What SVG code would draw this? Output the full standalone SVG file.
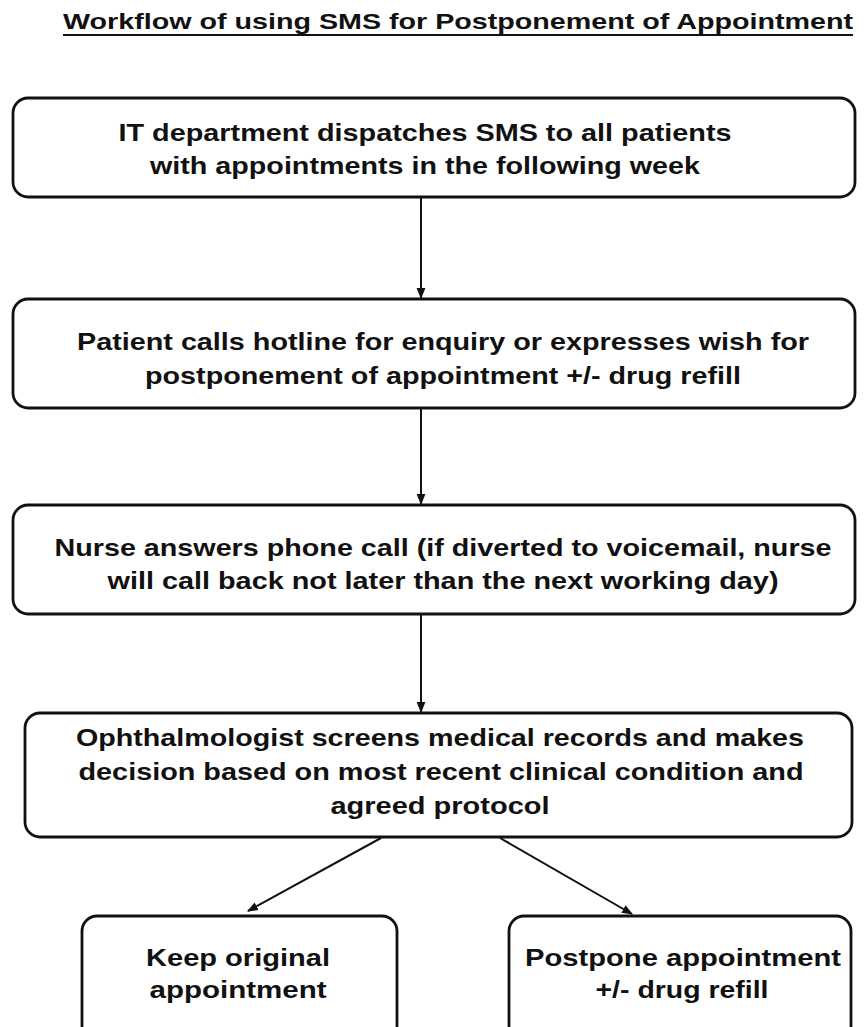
<svg xmlns="http://www.w3.org/2000/svg" width="865" height="1027" viewBox="0 0 865 1027">
<style>
.box{fill:#fff;stroke:#111;stroke-width:2.8}
.t{font-family:"Liberation Sans",Arial,sans-serif;font-weight:bold;font-size:24px;fill:#111;text-anchor:middle}
.title{font-family:"Liberation Sans",Arial,sans-serif;font-weight:bold;font-size:22px;fill:#111}
.c{stroke:#111;stroke-width:2;fill:none;marker-end:url(#ah)}
</style>
<defs>
<marker id="ah" viewBox="0 0 10 10" refX="9" refY="5" markerWidth="11" markerHeight="11" markerUnits="userSpaceOnUse" orient="auto">
<path d="M0,1 L10,5 L0,9 z" fill="#111"/>
</marker>
</defs>
<rect width="865" height="1027" fill="#fff"/>
<g id="title">
<text class="title" x="63" y="29" textLength="790" lengthAdjust="spacingAndGlyphs">Workflow of using SMS for Postponement of Appointment</text>
<line x1="63" y1="35" x2="853" y2="35" stroke="#111" stroke-width="2"/>
</g>
<g id="connectors">
<line class="c" x1="421" y1="197" x2="421" y2="298"/>
<line class="c" x1="421" y1="408" x2="421" y2="504"/>
<line class="c" x1="421" y1="614" x2="421" y2="712"/>
<line class="c" x1="381" y1="838" x2="248" y2="911"/>
<line class="c" x1="500" y1="838" x2="632" y2="914"/>
</g>
<g id="n1">
<rect class="box" x="13" y="98" width="842" height="99" rx="15"/>
<text class="t" x="425" y="141" textLength="613" lengthAdjust="spacingAndGlyphs">IT department dispatches SMS to all patients</text>
<text class="t" x="425" y="174" textLength="550" lengthAdjust="spacingAndGlyphs">with appointments in the following week</text>
</g>
<g id="n2">
<rect class="box" x="13" y="299" width="842" height="109" rx="15"/>
<text class="t" x="443" y="350" textLength="732" lengthAdjust="spacingAndGlyphs">Patient calls hotline for enquiry or expresses wish for</text>
<text class="t" x="443" y="384" textLength="596" lengthAdjust="spacingAndGlyphs">postponement of appointment +/- drug refill</text>
</g>
<g id="n3">
<rect class="box" x="13" y="505" width="842" height="109" rx="15"/>
<text class="t" x="443" y="556" textLength="777" lengthAdjust="spacingAndGlyphs">Nurse answers phone call (if diverted to voicemail, nurse</text>
<text class="t" x="443" y="589" textLength="671" lengthAdjust="spacingAndGlyphs">will call back not later than the next working day)</text>
</g>
<g id="n4">
<rect class="box" x="25" y="713" width="827" height="124" rx="15"/>
<text class="t" x="440" y="746" textLength="728" lengthAdjust="spacingAndGlyphs">Ophthalmologist screens medical records and makes</text>
<text class="t" x="441" y="780" textLength="725" lengthAdjust="spacingAndGlyphs">decision based on most recent clinical condition and</text>
<text class="t" x="440" y="814" textLength="219" lengthAdjust="spacingAndGlyphs">agreed protocol</text>
</g>
<g id="n5">
<rect class="box" x="82" y="916" width="315" height="125" rx="15"/>
<text class="t" x="238" y="966" textLength="184" lengthAdjust="spacingAndGlyphs">Keep original</text>
<text class="t" x="238" y="998" textLength="177" lengthAdjust="spacingAndGlyphs">appointment</text>
</g>
<g id="n6">
<rect class="box" x="509" y="916" width="342" height="125" rx="15"/>
<text class="t" x="683" y="966" textLength="316" lengthAdjust="spacingAndGlyphs">Postpone appointment</text>
<text class="t" x="682" y="998" textLength="173" lengthAdjust="spacingAndGlyphs">+/- drug refill</text>
</g>
</svg>
